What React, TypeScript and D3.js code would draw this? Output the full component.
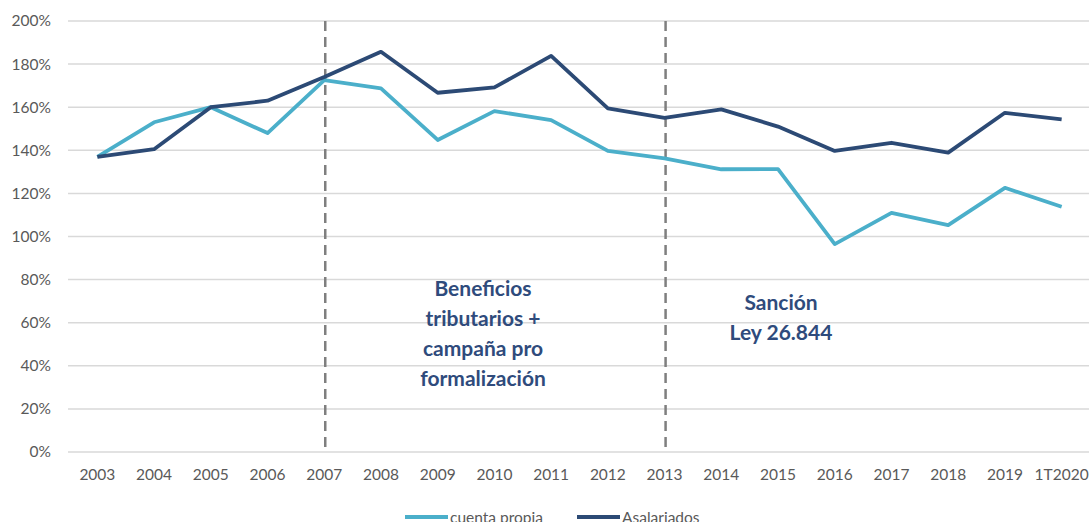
import React from "react";
import * as d3 from "d3";

const categories = ["2003","2004","2005","2006","2007","2008","2009","2010","2011","2012","2013","2014","2015","2016","2017","2018","2019","1T2020"];
const cuentaPropia = [137, 153, 160, 148, 172.6, 168.7, 144.8, 158.2, 154, 139.7, 136.3, 131.2, 131.3, 96.5, 111, 105.3, 122.6, 113.8];
const asalariados = [137, 140.5, 160, 163, 174, 185.7, 166.7, 169.2, 183.8, 159.5, 155.1, 159, 151, 139.7, 143.5, 138.9, 157.4, 154.3];
const yTicks = [0, 20, 40, 60, 80, 100, 120, 140, 160, 180, 200];
const markerYears = ["2007", "2013"];
const seriesNames = ["cuenta propia", "Asalariados"];
const annotation1 = ["Beneficios", "tributarios +", "campaña pro", "formalización"];
const annotation2 = ["Sanción", "Ley 26.844"];

const W = 1089, H = 522;
const LIGHT = "#4bafca";
const DARK = "#2c4a75";
const TXT = "#595959";
const ANN = "#2f4b7c";
const FONT = "Lato, 'Open Sans', sans-serif";

export default function App() {
  const x = d3.scalePoint<string>().domain(categories).range([69, 1090]).padding(0.5);
  const y = d3.scaleLinear().domain([0, 200]).range([452, 21]);
  const line = d3.line<number>().x((_, i) => x(categories[i]) as number).y(d => y(d));
  const pct = (v: number) => `${v}%`;

  return (
    <svg width={W} height={H} style={{ position: "absolute", left: 0, top: 0, background: "#fff" }}>
      {yTicks.map(t => (
        <g key={t}>
          <line x1={68} x2={1089} y1={y(t)} y2={y(t)} stroke="#d9d9d9" strokeWidth={1.5} />
          <text x={51} y={y(t)} dy="0.35em" textAnchor="end" fontFamily={FONT} fontSize={15.5} fill={TXT}>{pct(t)}</text>
        </g>
      ))}
      {categories.map(c => (
        <text key={c} x={x(c)} y={480} textAnchor="middle" fontFamily={FONT} fontSize={15.5} fill={TXT}>{c}</text>
      ))}
      {markerYears.map(m => (
        <line key={m} x1={(x(m) as number) + 1} x2={(x(m) as number) + 1} y1={y(200)} y2={y(0)} stroke="#7f7f7f" strokeWidth={2.5} strokeDasharray="10,6" />
      ))}
      <path d={line(cuentaPropia) || ""} fill="none" stroke={LIGHT} strokeWidth={3.8} strokeLinejoin="round" />
      <path d={line(asalariados) || ""} fill="none" stroke={DARK} strokeWidth={3.8} strokeLinejoin="round" />
      {annotation1.map((s, i) => (
        <text key={s} x={483} y={296 + i * 30} textAnchor="middle" fontFamily={FONT} fontWeight="bold" fontSize={21} fill={ANN}>{s}</text>
      ))}
      {annotation2.map((s, i) => (
        <text key={s} x={781} y={310 + i * 30} textAnchor="middle" fontFamily={FONT} fontWeight="bold" fontSize={21} fill={ANN}>{s}</text>
      ))}
      <g>
        <line x1={405} x2={448} y1={517} y2={517} stroke={LIGHT} strokeWidth={4} />
        <text x={450} y={523} fontFamily={FONT} fontSize={15.5} fill={TXT}>{seriesNames[0]}</text>
        <line x1={577} x2={620} y1={517} y2={517} stroke={DARK} strokeWidth={4} />
        <text x={622} y={523} fontFamily={FONT} fontSize={15.5} fill={TXT}>{seriesNames[1]}</text>
      </g>
    </svg>
  );
}
